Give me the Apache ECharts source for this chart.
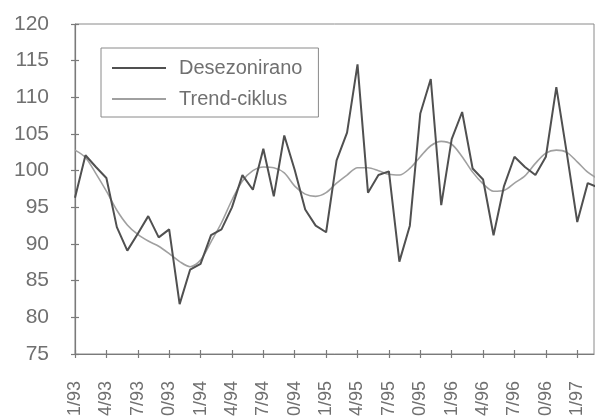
<!DOCTYPE html>
<html>
<head>
<meta charset="utf-8">
<script src="https://cdn.jsdelivr.net/npm/echarts@6/dist/echarts.min.js"></script>
<style>html,body{margin:0;padding:0;background:#fff;}#c{width:595px;height:416px;}</style>
</head>
<body>
<div id="c"></div>
<script>
// Months from 1/93 (index 0) to 3/97 (index 50)
const tickLabels = ['1/93','4/93','7/93','10/93','1/94','4/94','7/94','10/94','1/95','4/95','7/95','10/95','1/96','4/96','7/96','10/96','1/97'];
const desezonirano = [96.3,102.1,100.5,99.0,92.3,89.1,91.4,93.8,90.9,92.0,81.8,86.5,87.3,91.2,92.0,95.0,99.4,97.4,103.0,96.5,104.8,100.1,94.7,92.5,91.6,101.4,105.2,114.5,97.0,99.4,99.9,87.6,92.5,107.8,112.5,95.3,104.3,108.0,100.3,98.8,91.2,97.9,101.9,100.5,99.4,101.9,111.4,102.4,93.0,98.3,97.7];
const trendCiklus = [102.8,101.8,99.6,97.2,94.6,92.6,91.3,90.4,89.7,88.7,87.6,86.9,87.8,90.3,92.9,96.0,98.6,100.0,100.5,100.4,99.7,97.9,96.8,96.5,97.0,98.3,99.4,100.4,100.4,100.0,99.5,99.4,100.3,101.9,103.4,104.0,103.6,101.9,99.8,98.2,97.2,97.3,98.3,99.3,101.0,102.4,102.8,102.5,101.2,99.8,98.9];
const seriesNames = ['Desezonirano','Trend-ciklus'];

const tickPos = tickLabels.map((_, i) => i * 3);
const pts = arr => arr.map((v, i) => [i, v]);
const FONT = '"Liberation Sans", Arial, sans-serif';
const AX = '#7a7a7a';

const chart = echarts.init(document.getElementById('c'), null, {renderer: 'canvas'});
chart.setOption({
  animation: false,
  backgroundColor: '#ffffff',
  grid: {left: 75, right: 1, top: 24, bottom: 62, show: true, borderColor: '#8a8a8a', borderWidth: 1,
    containLabel: false, outerBoundsMode: 'none'},
  legend: {
    left: 101, top: 48, orient: 'vertical',
    data: seriesNames,
    icon: 'rect',
    borderColor: '#8a8a8a', borderWidth: 1,
    padding: [10, 16, 8, 11],
    itemGap: 11, itemWidth: 54, itemHeight: 2,
    textStyle: {fontFamily: FONT, fontSize: 20, color: '#707070', padding: [0, 0, 0, 8]}
  },
  xAxis: [{
    type: 'value', min: 0, max: 49.6, interval: 3, position: 'bottom',
    splitLine: {show: false},
    axisLine: {lineStyle: {color: AX, width: 1.2}},
    axisTick: {customValues: tickPos, length: 4, lineStyle: {color: AX, width: 1.2}},
    axisLabel: {customValues: tickPos, rotate: 90, margin: 27, fontFamily: FONT, fontSize: 18, color: '#707070',
      formatter: v => tickLabels[Math.round(v / 3)] || ''}
  }, {
    type: 'value', min: 0, max: 49.6, interval: 3, position: 'bottom', offset: 0,
    splitLine: {show: false},
    axisLine: {show: false},
    axisTick: {customValues: tickPos, inside: true, length: 4, lineStyle: {color: AX, width: 1.2}},
    axisLabel: {show: false}
  }],
  yAxis: [{
    type: 'value', min: 75, max: 120, interval: 5, position: 'left',
    splitLine: {show: false},
    axisLine: {show: true, lineStyle: {color: AX, width: 1.2}},
    axisTick: {show: true, length: 4, lineStyle: {color: AX, width: 1.2}},
    axisLabel: {margin: 26, fontFamily: FONT, fontSize: 21, color: '#707070'}
  }, {
    type: 'value', min: 75, max: 120, interval: 5, position: 'left', offset: 0,
    splitLine: {show: false},
    axisLine: {show: false},
    axisTick: {show: true, inside: true, length: 4, lineStyle: {color: AX, width: 1.2}},
    axisLabel: {show: false}
  }],
  series: [{
    name: seriesNames[0], type: 'line', data: pts(desezonirano), symbol: 'none',
    xAxisIndex: 0, yAxisIndex: 0,
    lineStyle: {color: '#505050', width: 2}, itemStyle: {color: '#505050'}, z: 3
  }, {
    name: seriesNames[1], type: 'line', data: pts(trendCiklus), symbol: 'none', smooth: 0.3,
    xAxisIndex: 0, yAxisIndex: 0,
    lineStyle: {color: '#a0a0a0', width: 1.6}, itemStyle: {color: '#a0a0a0'}, z: 2
  }]
});
</script>
</body>
</html>
